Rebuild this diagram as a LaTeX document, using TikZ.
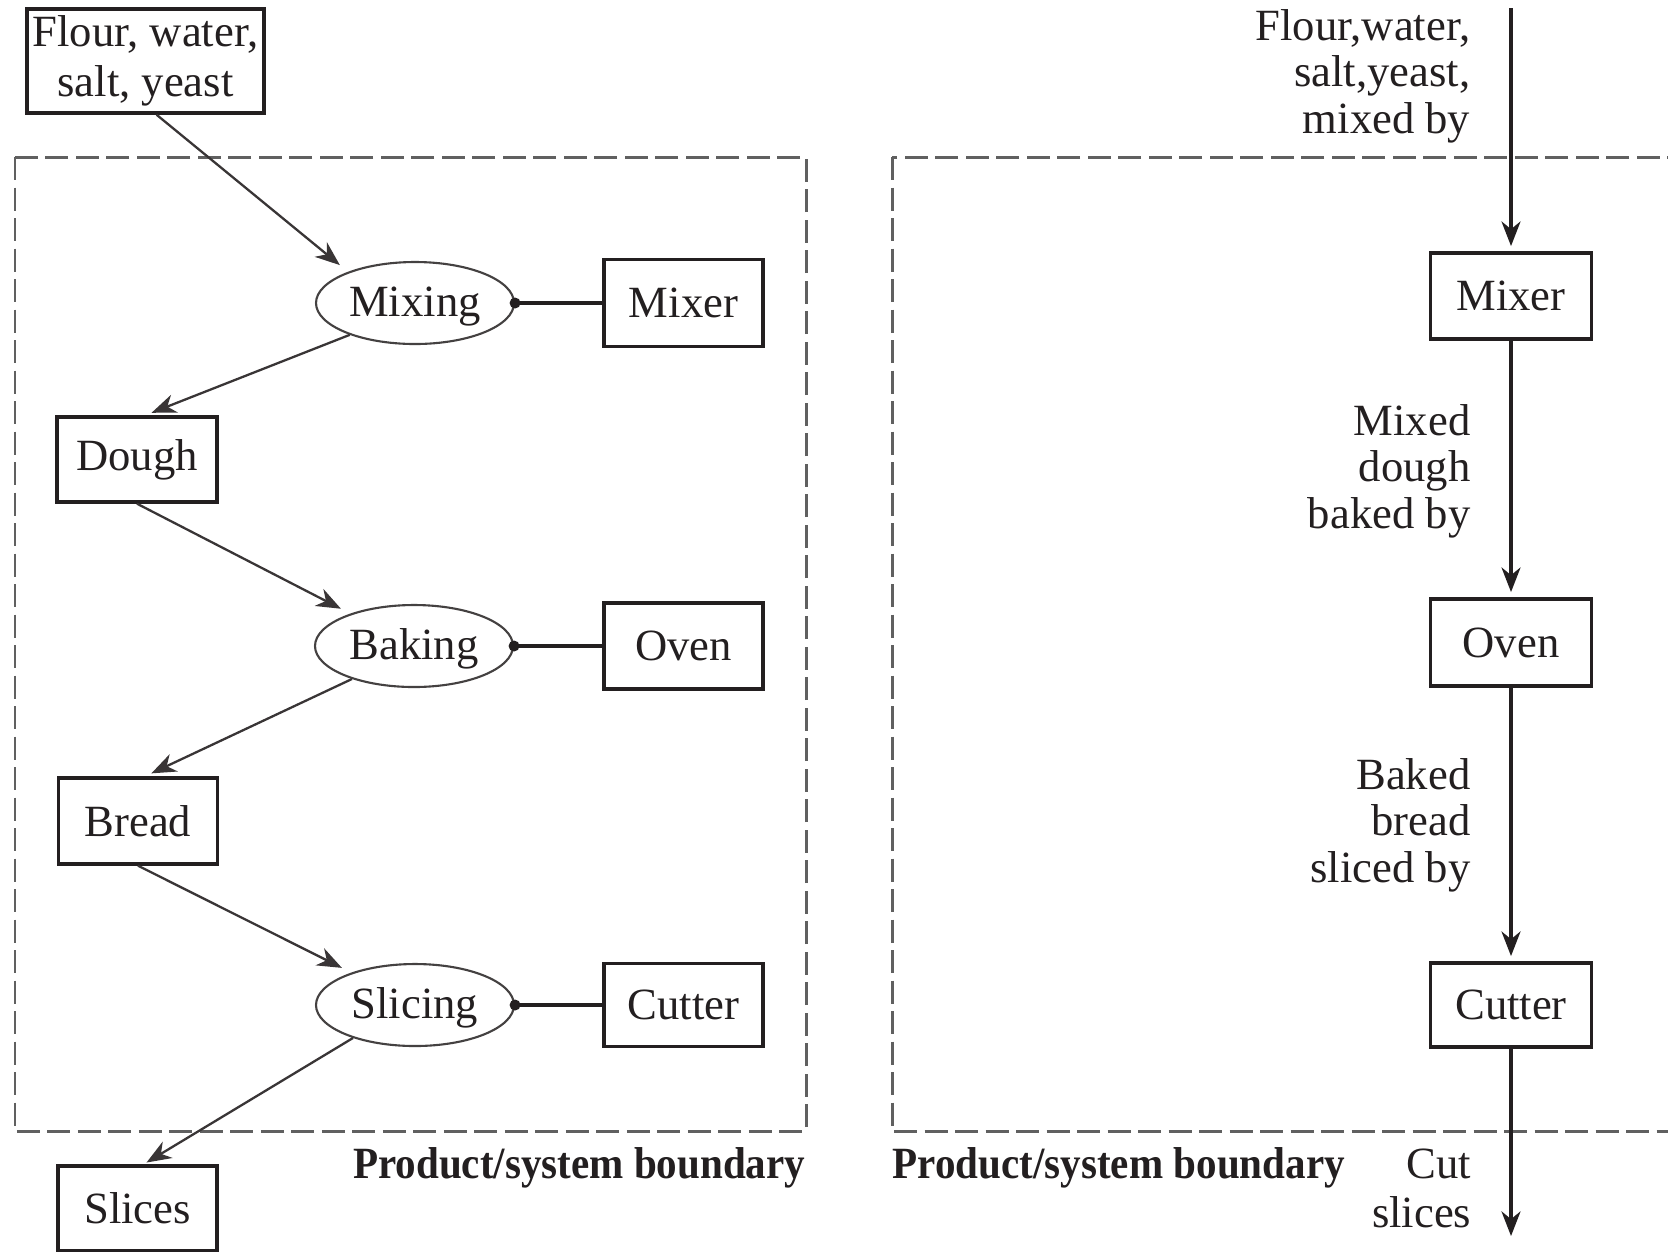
\documentclass[tikz,border=0pt]{standalone}
\usepackage{graphicx}
\usepackage{fontspec}
\setmainfont{Liberation Serif}
\usetikzlibrary{shapes.geometric,arrows.meta}
\definecolor{ink}{HTML}{231F20}
\definecolor{bound}{HTML}{606060}
\begin{document}
\begin{tikzpicture}[x=0.1mm,y=-0.1mm,
  every node/.style={font=\fontsize{12.7}{13.2}\selectfont, text=ink},
  box/.style={draw=ink, line width=0.95pt, inner sep=0pt, minimum width=15.9mm, minimum height=8.5mm},
  proc/.style={ellipse, draw=ink!85, line width=0.6pt, inner sep=0pt, minimum width=19.8mm, minimum height=8.2mm,
               text height=1.75ex, text depth=0.1ex},
  flow/.style={draw=ink!90, line width=0.65pt, -{Stealth[length=7pt,width=5.4pt,inset=2.2pt]}},
  feed/.style={draw=ink, line width=0.95pt, -{Stealth[length=7pt,width=5.4pt,inset=2.2pt]}, shorten >=1.5pt},
  link/.style={draw=ink, line width=0.9pt},
  boundary/.style={draw=bound, line width=0.85pt, dash pattern=on 2.3mm off 0.75mm},
  note/.style={align=right, anchor=base east, inner sep=0pt, font=\fontsize{12.7}{13.1}\selectfont},
  caption/.style={inner sep=0pt, font=\bfseries\fontsize{12.7}{14}\selectfont}
]
\clip (0,0) rectangle (1668,1251);
\fill[white] (0,0) rectangle (1668,1251);

% product/system boundaries
\draw[boundary] (15,157) rectangle (806,1131);
\draw[boundary] (892,157) rectangle (1720,1131);

% ---- process view (left) ----
\node[box, minimum width=23.7mm, minimum height=10.4mm, align=center,
      font=\fontsize{12.7}{14.2}\selectfont] (flour) at (145.5,61) {Flour, water,\\salt, yeast};

\node[proc] (mixing)  at (415,303)  {Mixing};
\node[proc] (baking)  at (414,646)  {Baking};
\node[proc] (slicing) at (415,1005) {Slicing};

\node[box, minimum height=8.7mm] (mixerL)  at (683.5,303) {Mixer};
\node[box, minimum height=8.6mm] (ovenL)   at (683.5,646) {Oven};
\node[box, minimum height=8.3mm] (cutterL) at (683.5,1005) {Cutter};

\node[box, minimum width=16mm] (dough)  at (137,459.5)  {Dough};
\node[box, minimum height=8.6mm] (bread)  at (138,821)    {Bread};
\node[box] (slices) at (137.5,1208.5) {Slices};

\draw[flow, shorten >=3pt] ([xshift=1.1mm]flour.south) -- (mixing.155);
\draw[flow, shorten >=2pt] (mixing.206) -- ([xshift=0.8mm]dough.north);
\draw[flow, shorten >=3pt] (dough.south) -- (baking.153);
\draw[flow, shorten >=2pt] (baking.208) -- ([xshift=0.7mm]bread.north);
\draw[flow, shorten >=3pt] (bread.south) -- (slicing.153);
\draw[flow, shorten >=1pt] (slicing.208) -- ([xshift=0.6mm]slices.north);

\foreach \p/\m in {mixing/mixerL, baking/ovenL, slicing/cutterL}{
  \fill[ink] (\p.east) circle (0.55mm);
  \draw[link] (\p.east) -- (\m.west);
}

\node[caption, anchor=base east] (capL) at (806,1178) {\scalebox{0.92}[1]{Product/system boundary}};

% ---- machine view (right) ----
\coordinate (in)  at (1511,8);
\coordinate (out) at (1511,1236);

\node[box, minimum width=16.1mm, minimum height=8.6mm] (mixerR)  at (1511,296)   {Mixer};
\node[box, minimum width=16.1mm, minimum height=8.7mm] (ovenR)   at (1511,642.5) {Oven};
\node[box, minimum width=16.1mm, minimum height=8.4mm] (cutterR) at (1511,1005)  {Cutter};

\draw[feed] (in) -- (mixerR);
\draw[feed] (mixerR) -- (ovenR);
\draw[feed] (ovenR) -- (cutterR);
\draw[feed, shorten >=0pt] (cutterR) -- (out);

% labels: anchored at the baseline of their last line
\node[note] (lblIn)    at (1471,133) {Flour,water,\\salt,yeast,\\mixed by};
\node[note] (lblMix)   at (1471,528) {Mixed\\dough\\baked by};
\node[note] (lblBake)  at (1471,882) {Baked\\bread\\sliced by};
\node[note, font=\fontsize{12.7}{13.8}\selectfont] (lblOut) at (1472,1227) {Cut\\slices};

\node[caption, anchor=base west] (capR) at (892,1178) {\scalebox{0.92}[1]{Product/system boundary}};
\end{tikzpicture}
\end{document}
